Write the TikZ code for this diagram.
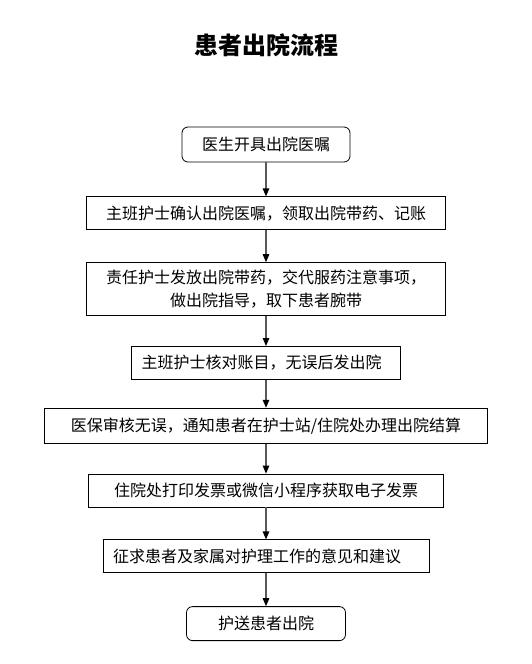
\documentclass[tikz,border=0pt]{standalone}
\usepackage{fontspec}
\setmainfont{Noto Sans CJK SC}
\usetikzlibrary{positioning,arrows.meta}

\begin{document}
\begin{tikzpicture}[
  x=1pt,y=1pt,
  every node/.style={font=\fontsize{16}{23}\selectfont},
  stepbox/.style={rectangle,draw,line width=0.8pt,minimum height=33pt,inner sep=0pt},
  endbox/.style={stepbox,rounded corners=6pt},
  flow/.style={draw=gray!70!black,line width=1.2pt,-{Triangle[length=8pt,width=6.5pt,color=black]}}]
\useasboundingbox (0,0) rectangle (531,-664);
\node[font=\fontsize{24}{28}\selectfont\bfseries] (title) at (266,-45) {患者出院流程};
\node[endbox,minimum width=168pt,minimum height=35pt] (order) at (266,-144.5) {医生开具出院医嘱};
\node[stepbox,minimum width=359pt,below=34pt of order] (confirm) {主班护士确认出院医嘱，领取出院带药、记账};
\node[stepbox,minimum width=359pt,minimum height=53pt,align=center,below=32pt of confirm] (guide)
  {责任护士发放出院带药，交代服药注意事项，\\做出院指导，取下患者腕带};
\node[stepbox,minimum width=269pt,below=30pt of guide] (check) {主班护士核对账目，无误后发出院\kern9pt};
\node[stepbox,minimum width=443pt,minimum height=35pt,below=28pt of check] (settle) {医保审核无误，通知患者在护士站/住院处办理出院结算};
\node[stepbox,minimum width=355pt,below=30pt of settle] (invoice) {住院处打印发票或微信小程序获取电子发票};
\node[stepbox,minimum width=326pt,below=32pt of invoice] (advice) {征求患者及家属对护理工作的意见和建议\kern18pt};
\node[endbox,minimum width=159pt,minimum height=34pt,below=33pt of advice] (leave) {护送患者出院};
% arrows
\foreach \a/\b in {order/confirm,confirm/guide,guide/check,check/settle,settle/invoice,invoice/advice,advice/leave}
  \draw[flow] (\a) -- (\b);
\end{tikzpicture}
\end{document}
